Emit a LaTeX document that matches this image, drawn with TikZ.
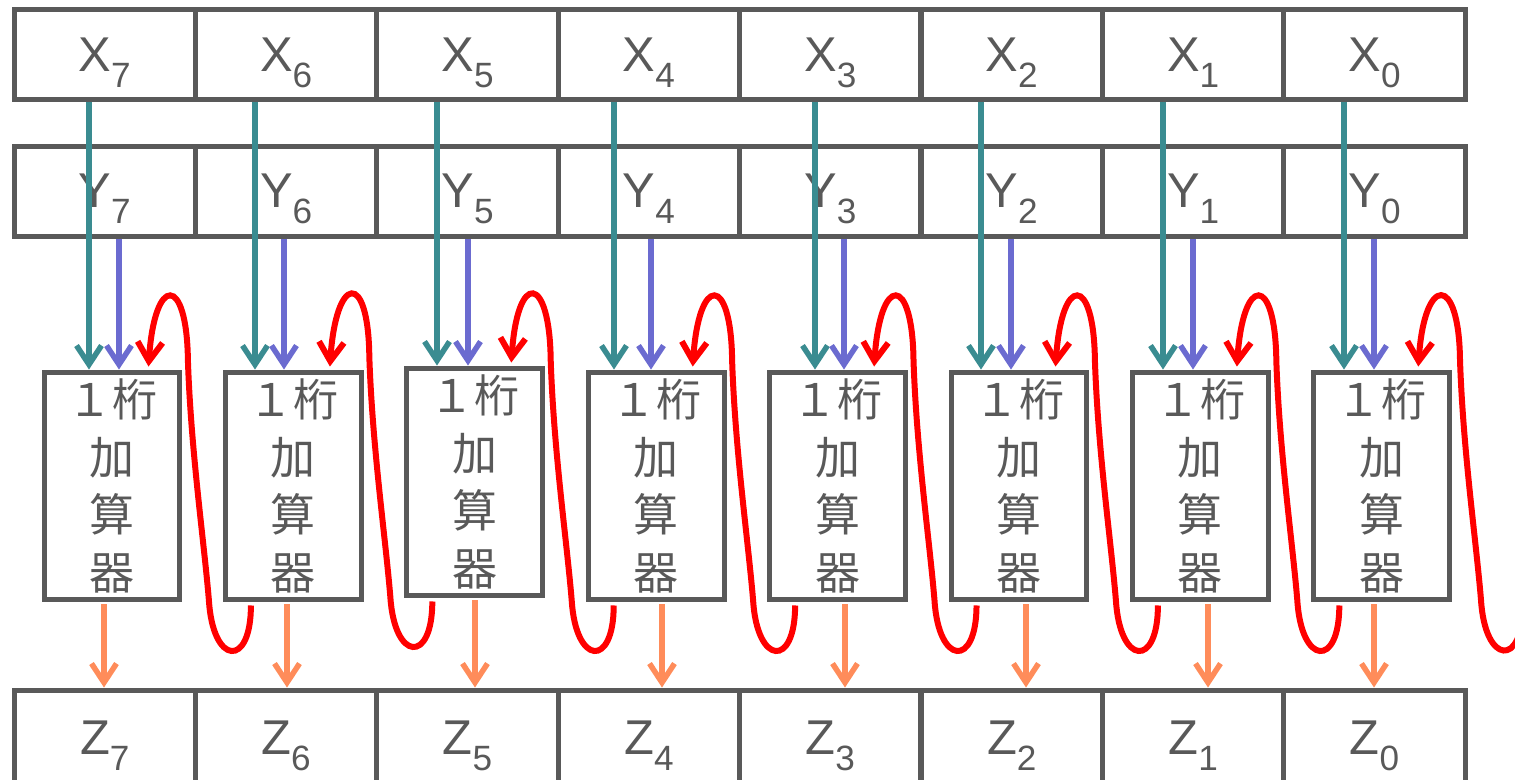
\documentclass[tikz,border=0pt]{standalone}
\usepackage{fontspec}
\setmainfont{Liberation Sans}
\newfontfamily\cjk{Noto Sans CJK JP}
\usepackage{tikz}
\usetikzlibrary{arrows.meta,calc}
\definecolor{boxgray}{HTML}{595959}
\definecolor{xteal}{HTML}{3A8C91}
\definecolor{yviolet}{HTML}{6B6BD0}
\definecolor{zorange}{HTML}{FF8C5A}
\definecolor{carryred}{HTML}{FF0000}
% register bit: letter with a lowered index
\newcommand{\regbit}[2]{#1\raisebox{-9pt}[0pt][0pt]{\fontsize{20pt}{20pt}\selectfont #2}}

\begin{document}
\begin{tikzpicture}[x=0.02cm,y=-0.02cm,
  cell/.style={draw=boxgray,line width=0.1cm,minimum width=3.628cm,minimum height=1.8cm,
               inner sep=0pt,text=boxgray,font=\fontsize{27.8pt}{30pt}\selectfont},
  zcell/.style={cell,minimum height=1.9cm},
  adder/.style={draw=boxgray,line width=0.1cm,minimum width=2.72cm,minimum height=4.56cm,
                inner sep=0pt,align=center,text=boxgray,
                font=\cjk\fontsize{25.6pt}{32.9pt}\selectfont},
  xarr/.style={draw=xteal,line width=0.11cm,-{Straight Barb[length=0.38cm,width=0.5cm]}},
  yarr/.style={xarr,draw=yviolet},
  zarr/.style={xarr,draw=zorange},
  carry/.style={xarr,draw=carryred,line width=0.12cm}
]
\useasboundingbox (0,0) rectangle (1515,779);

% registers X, Y, Z and the one-digit adders
\foreach \d/\ay [count=\k from 0] in {7/486,6/486,5/482,4/486,3/486,2/486,1/486,0/486} {
  \node[cell]  (x\d)   at (104.7+181.4*\k,54.5)  {\regbit{X}{\d}};
  \node[cell]  (y\d)   at (104.7+181.4*\k,191)   {\regbit{Y}{\d}};
  \node[zcell] (z\d)   at (104.7+181.4*\k,737.5) {\regbit{Z}{\d}};
  \node[adder] (add\d) at (112+181.4*\k,\ay)     {１桁\\加\\算\\器};
  \coordinate (cout\d) at ($(add\d.south west)+(28,3)$);
}
\coordinate (cin) at (1523,605);

% operand and result lines
\foreach \d/\tx/\px/\ox in {7/89/119/104,6/255/284/287,5/437/468/475,4/614/651/662,
                             3/815/844/845,2/981/1011/1026,1/1163/1193/1208,0/1344/1374/1374} {
  \draw[xarr] (x\d.south -| \tx,0) -- (add\d.north -| \tx,0);
  \draw[yarr] (y\d.south -| \px,0) -- (add\d.north -| \px,0);
  \draw[zarr] ($(add\d.south -| \ox,0)+(0,2)$) -- (z\d.north -| \ox,0);
}

% carries, right to left
\foreach \d/\s in {7/cout6,6/cout5,5/cout4,4/cout3,3/cout2,2/cout1,1/cout0,0/cin} {
  \draw[carry] (\s) .. controls +(0,63) and +(4,65) .. ++(-42,-5)
    .. controls +(-5,-60) and +(3,90) .. ++(-21,-240)
    .. controls +(-1,-87) and +(6,-92) .. ($(add\d.north west)+(107,-3)$);
}
\end{tikzpicture}
\end{document}
